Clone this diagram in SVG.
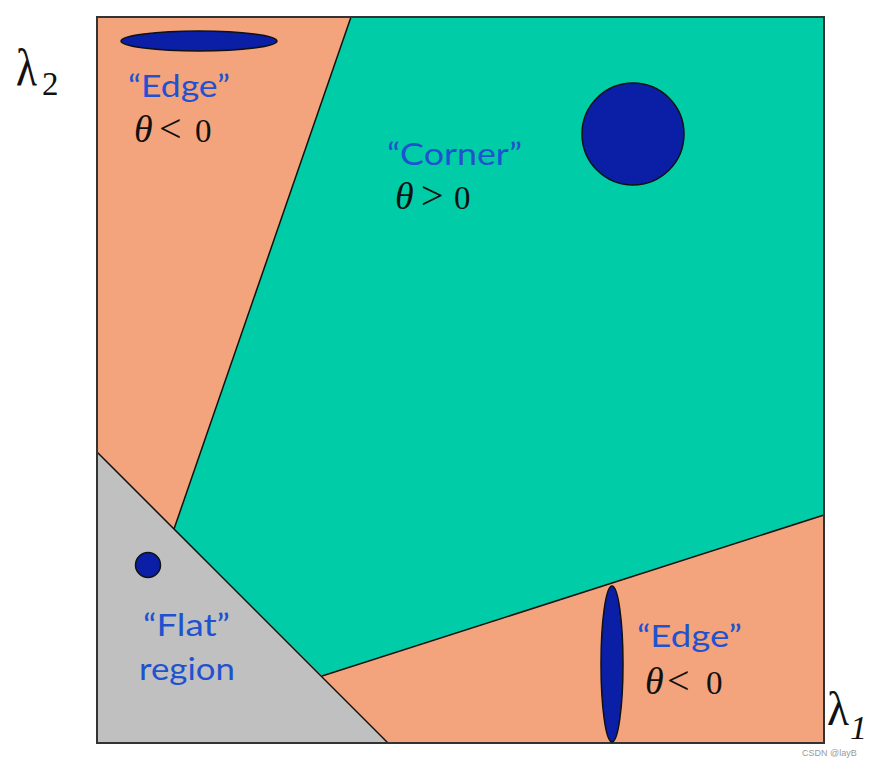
<svg xmlns="http://www.w3.org/2000/svg" width="870" height="764" viewBox="0 0 870 764">
  <style>
    .edge { stroke: #111; stroke-width: 1.5; fill: none; }
    .blob { fill: #0A1EA6; stroke: #111; stroke-width: 1.5; }
    .lbl { font-family: Lato, "Open Sans", "Liberation Sans", sans-serif; font-size: 31px; fill: #1F52CF; }
    .math { font-family: "Liberation Serif", "DejaVu Serif", serif; font-size: 33px; fill: #111; }
    .th { font-style: italic; font-size: 38px; }
    .op { font-size: 40px; }
    .axis { font-family: "Liberation Serif", "DejaVu Serif", serif; fill: #111; }
  </style>
  <rect x="0" y="0" width="870" height="764" fill="#ffffff"/>

  <g id="region-edge">
    <rect x="97" y="17" width="727" height="726" fill="#F4A47C"/>
  </g>
  <g id="region-corner">
    <polygon points="351,17 824,17 824,515 322,676 174,529" fill="#00CDA7"/>
  </g>
  <g id="region-flat">
    <polygon points="97,452 388,743 97,743" fill="#C0C0C0"/>
  </g>

  <g id="connectors">
    <line class="edge" x1="351" y1="17" x2="174" y2="529"/>
    <line class="edge" x1="97" y1="452" x2="388" y2="743"/>
    <line class="edge" x1="322" y1="676" x2="824" y2="515"/>
  </g>

  <rect x="97" y="17" width="727" height="726" fill="none" stroke="#333" stroke-width="2"/>

  <g id="node-edge-top">
    <ellipse class="blob" cx="199" cy="41" rx="78" ry="10"/>
    <text class="lbl" x="128" y="97" textLength="102" lengthAdjust="spacingAndGlyphs">“Edge”</text>
    <text class="math th" x="134" y="142">θ</text>
    <text class="math op" x="159" y="142">&lt;</text>
    <text class="math" x="195" y="142">0</text>
  </g>

  <g id="node-corner">
    <circle class="blob" cx="633" cy="134" r="51"/>
    <text class="lbl" x="387" y="165" textLength="135" lengthAdjust="spacingAndGlyphs">“Corner”</text>
    <text class="math th" x="395" y="209">θ</text>
    <text class="math op" x="421" y="209">&gt;</text>
    <text class="math" x="454" y="209">0</text>
  </g>

  <g id="node-flat">
    <circle class="blob" cx="148" cy="565" r="12.5"/>
    <text class="lbl" x="143" y="636" textLength="87" lengthAdjust="spacingAndGlyphs">“Flat”</text>
    <text class="lbl" x="139" y="680" textLength="96" lengthAdjust="spacingAndGlyphs">region</text>
  </g>

  <g id="node-edge-bottom">
    <ellipse class="blob" cx="612" cy="664" rx="11" ry="78"/>
    <text class="lbl" x="637" y="647" textLength="105" lengthAdjust="spacingAndGlyphs">“Edge”</text>
    <text class="math th" x="645" y="694">θ</text>
    <text class="math op" x="667" y="694">&lt;</text>
    <text class="math" x="706" y="694">0</text>
  </g>

  <g id="axis-labels">
    <text class="axis" x="16" y="85" font-size="52" textLength="21" lengthAdjust="spacingAndGlyphs">λ</text>
    <text class="axis" x="42" y="95" font-size="33">2</text>
    <text class="axis" x="827" y="725" font-size="48" textLength="22" lengthAdjust="spacingAndGlyphs">λ</text>
    <text class="axis" x="850" y="739" font-size="34" font-style="italic">1</text>
  </g>

  <text x="802" y="756" font-family="Liberation Sans, Arial, sans-serif" font-size="9" fill="#9a9a9a">CSDN @layB</text>
</svg>
